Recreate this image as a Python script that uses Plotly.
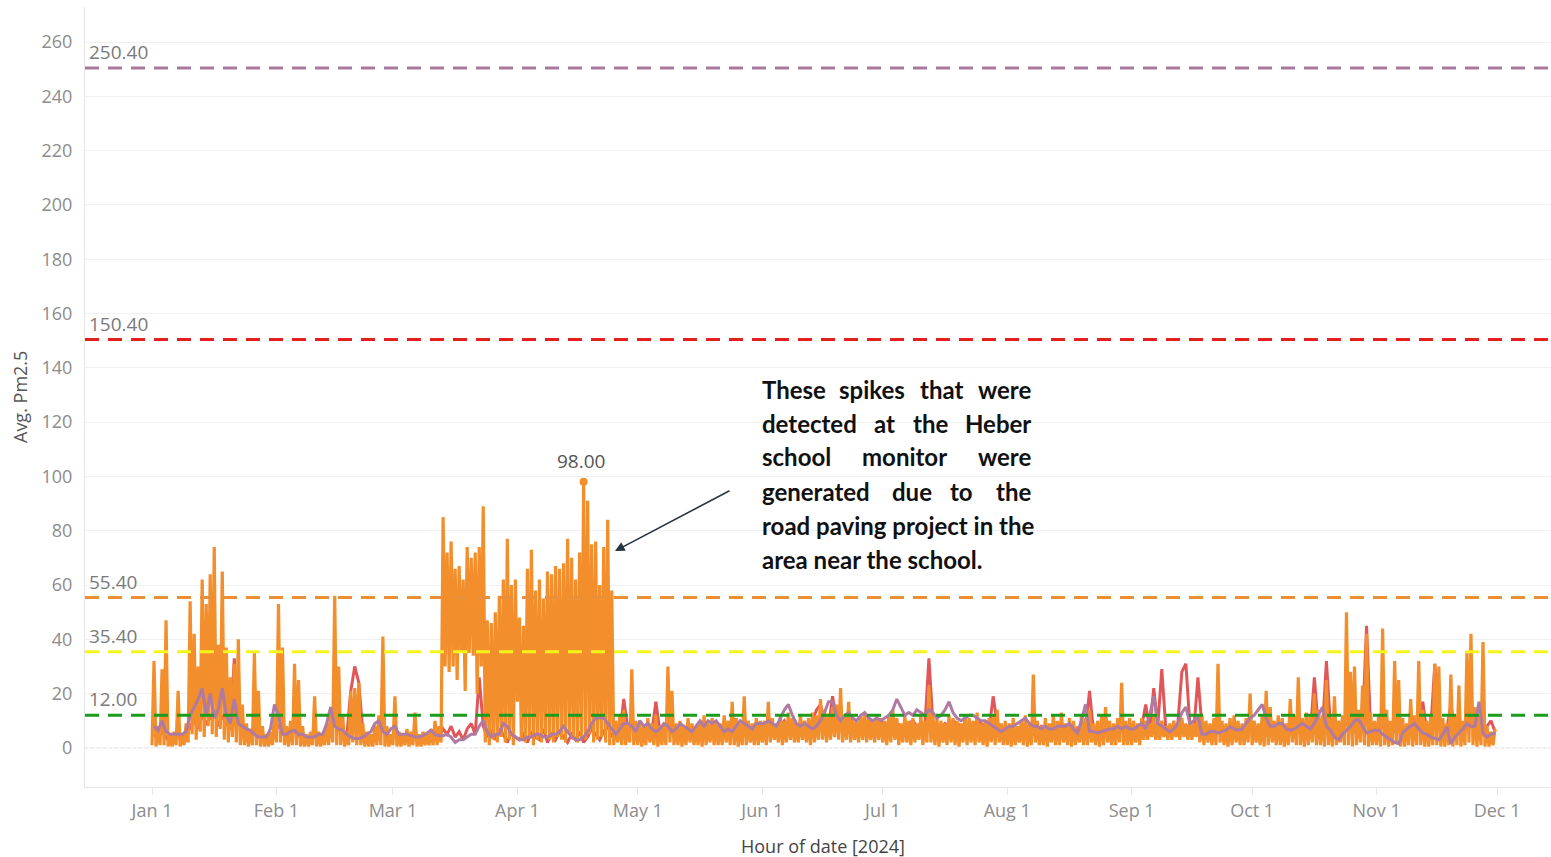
import pandas as pd
import plotly.graph_objects as go

# ---------------- data ----------------
START = "2024-01-01"   # first day of hourly records; one daily low/high pair per day

# Heber school monitor (orange): daily high values, Jan 1 .. Nov 30
orange_hi = [
    32, 8, 29, 47, 5, 6, 21, 5, 9, 54, 42, 30, 62, 53, 64, 74, 38, 65, 37, 26, 31, 40, 16, 9, 7, 35, 21, 8, 5, 6, 12,  # Jan
    53, 37, 8, 10, 31, 25, 8, 5, 6, 19, 6, 5, 9, 14, 56, 30, 12, 6, 21, 22, 24, 9, 6, 5, 8, 12, 41, 8, 5,  # Feb
    19, 6, 5, 7, 6, 13, 5, 6, 5, 7, 10, 8, 85, 72, 76, 66, 67, 62, 74, 70, 72, 74, 89, 47, 46, 50, 56, 62, 77, 60, 62,  # Mar
    48, 45, 66, 73, 58, 62, 55, 65, 64, 67, 66, 68, 77, 70, 62, 72, 98, 91, 75, 76, 60, 74, 84, 58, 10, 12, 14, 9, 29, 10,  # Apr
    9, 8, 11, 9, 12, 8, 9, 30, 21, 9, 10, 8, 11, 9, 8, 10, 12, 9, 11, 10, 9, 12, 10, 17, 11, 9, 19, 10, 9, 11, 10,  # May
    10, 17, 11, 9, 12, 10, 13, 11, 9, 12, 10, 11, 13, 12, 18, 14, 12, 15, 16, 22, 12, 17, 11, 10, 12, 13, 11, 10, 12, 11,  # Jun
    10, 12, 14, 11, 9, 12, 10, 11, 9, 12, 10, 23, 12, 11, 10, 9, 12, 11, 10, 9, 12, 11, 10, 13, 9, 10, 11, 12, 14, 9, 10,  # Jul
    9, 11, 8, 10, 12, 9, 27, 10, 8, 11, 9, 12, 10, 13, 9, 11, 10, 8, 12, 11, 14, 9, 10, 12, 15, 10, 9, 11, 24, 10, 11,  # Aug
    10, 9, 11, 10, 9, 12, 9, 10, 8, 9, 10, 9, 11, 9, 10, 9, 11, 12, 10, 9, 11, 31, 10, 9, 11, 12, 10, 9, 11, 20,  # Sep
    10, 9, 12, 21, 15, 10, 12, 11, 9, 18, 12, 26, 11, 13, 12, 20, 14, 12, 25, 11, 19, 10, 12, 50, 28, 30, 14, 23, 42, 13, 10,  # Oct
    12, 44, 14, 10, 32, 25, 11, 9, 18, 12, 32, 14, 10, 12, 31, 30, 11, 9, 27, 12, 23, 10, 35, 42, 15, 12, 39, 8, 6, 7,  # Nov
]

# Heber school monitor (orange): daily low values
orange_lo = [
    1, 0.5, 1, 1, 0.5, 0.5, 1, 0.5, 1, 2, 5, 3, 6, 4, 8, 5, 4, 7, 3, 2, 4, 2, 1, 1, 0.5, 1, 1, 0.5, 0.5, 0.5, 1,  # Jan
    2, 2, 1, 0.5, 1, 1, 0.5, 0.5, 0.5, 1, 0.5, 0.5, 1, 1, 2, 1, 1, 0.5, 1, 2, 1, 1, 0.5, 0.5, 0.5, 1, 1, 0.5, 0.5,  # Feb
    1, 0.5, 0.5, 1, 0.5, 1, 0.5, 0.5, 1, 1, 1, 1, 2, 30, 28, 30, 25, 35, 21, 35, 34, 20, 30, 2, 1, 3, 2, 4, 2, 3, 1,  # Mar
    17, 3, 2, 4, 1, 3, 2, 5, 3, 2, 4, 3, 2, 5, 3, 2, 4, 3, 5, 2, 3, 4, 2, 1, 1, 2, 1, 1, 2, 1,  # Apr
    1, 0.5, 1, 2, 1, 0.5, 1, 1, 2, 1, 1, 0.5, 1, 2, 1, 1, 0.5, 1, 2, 1, 1, 1, 2, 1, 1, 0.5, 1, 1, 2, 1, 1,  # May
    2, 1, 2, 3, 2, 1, 2, 3, 2, 2, 3, 2, 1, 2, 3, 3, 2, 3, 4, 3, 2, 3, 2, 3, 2, 3, 2, 3, 2, 3,  # Jun
    2, 1, 2, 3, 1, 2, 2, 1, 2, 3, 1, 2, 2, 1, 0.5, 2, 1, 2, 1, 0.5, 2, 1, 2, 1, 2, 1, 0.5, 2, 1, 2, 1,  # Jul
    1, 0.5, 1, 2, 1, 0.5, 1, 2, 1, 1, 0.5, 2, 1, 1, 2, 1, 0.5, 1, 2, 1, 1, 2, 1, 0.5, 1, 2, 1, 1, 2, 1, 1,  # Aug
    1, 2, 1, 3, 3, 4, 3, 3, 4, 3, 3, 4, 3, 4, 3, 3, 4, 2, 1, 2, 1, 1, 2, 1, 0.5, 1, 2, 1, 1, 2,  # Sep
    1, 2, 1, 0.5, 1, 2, 1, 1, 0.5, 1, 2, 1, 1, 0.5, 1, 2, 1, 1, 0.5, 1, 0.5, 1, 2, 1, 1, 0.5, 1, 2, 1, 0.5, 1,  # Oct
    1, 0.5, 1, 0.5, 1, 2, 0.5, 0.5, 1, 0.5, 1, 1, 0.5, 0.5, 1, 1, 0.5, 0.5, 1, 0.5, 1, 0.5, 1, 2, 1, 0.5, 1, 0.5, 0.5, 1,  # Nov
]

# Second monitor (red): daily values
red_vals = [
    5, 3, 6, 4, 2, 3, 5, 2, 3, 8, 10, 7, 12, 9, 11, 14, 8, 12, 9, 7, 33, 10, 6, 4, 3, 7, 5, 3, 2, 3, 6,  # Jan
    8, 6, 3, 4, 6, 5, 2, 3, 2, 5, 3, 2, 4, 6, 9, 7, 5, 4, 21, 30, 24, 6, 4, 3, 3, 5, 8, 4, 3,  # Feb
    5, 3, 2, 4, 3, 5, 2, 3, 4, 5, 6, 4, 7, 5, 8, 4, 6, 3, 7, 9, 5, 26, 8, 4, 6, 3, 7, 5, 2, 6, 4,  # Mar
    3, 5, 2, 6, 4, 3, 7, 2, 5, 3, 6, 4, 2, 5, 3, 6, 2, 4, 7, 5, 3, 6, 8, 4, 6, 5, 18, 7, 9, 6,  # Apr
    7, 5, 8, 6, 17, 6, 7, 8, 9, 6, 7, 5, 8, 6, 7, 9, 6, 8, 5, 7, 6, 8, 7, 9, 6, 8, 7, 6, 8, 7, 9,  # May
    8, 7, 9, 6, 8, 10, 7, 9, 8, 6, 9, 8, 10, 14, 16, 9, 8, 19, 10, 9, 8, 10, 9, 7, 8, 9, 10, 8, 9, 10,  # Jun
    9, 8, 10, 9, 8, 7, 9, 10, 8, 9, 8, 33, 9, 8, 7, 9, 8, 10, 9, 8, 7, 9, 8, 10, 9, 8, 7, 19, 9, 8, 7,  # Jul
    6, 7, 5, 8, 6, 7, 5, 6, 8, 7, 5, 6, 7, 8, 6, 5, 7, 6, 8, 7, 21, 6, 5, 7, 8, 6, 5, 7, 8, 6, 7,  # Aug
    7, 6, 8, 16, 7, 22, 8, 29, 7, 8, 6, 9, 28, 31, 8, 7, 26, 8, 6, 5, 7, 6, 5, 7, 6, 5, 7, 6, 8, 7,  # Sep
    6, 5, 7, 6, 5, 7, 6, 8, 5, 7, 6, 8, 7, 6, 5, 26, 7, 6, 32, 8, 6, 5, 7, 9, 8, 6, 7, 8, 45, 7, 6,  # Oct
    6, 8, 5, 7, 6, 8, 5, 7, 6, 5, 8, 17, 6, 7, 31, 8, 6, 7, 16, 6, 7, 5, 8, 9, 6, 7, 5, 8, 10, 6,  # Nov
]

# Third monitor (purple): daily values
purple_vals = [
    8, 6.5, 10, 6, 5, 5, 5, 5, 6, 12, 15, 18, 22, 12, 20, 11, 14, 22, 12, 9, 18, 9, 8, 7, 6.5, 5, 4, 4, 4, 7, 16,  # Jan
    12, 5, 5, 6, 6.5, 5, 5, 4, 4, 4, 5, 5, 9, 15, 8, 7, 6.5, 5, 4, 3.5, 3.5, 4, 5, 6, 9, 10, 6, 5, 7,  # Feb
    8, 5, 5, 5, 4.5, 4, 4, 4.5, 5.5, 6.5, 5, 4.5, 4.5, 5, 4, 2, 3, 3, 4, 5, 5, 8, 10, 6, 4, 5, 5, 9, 8, 5, 4,  # Mar
    3, 3, 4, 4, 5, 5, 4, 4, 5, 5, 6, 8, 6, 4, 3, 3, 4, 6, 9, 11, 11, 11, 9, 7, 5, 7, 9, 9, 8, 6,  # Apr
    10, 8, 9, 7, 6, 7, 9, 8, 6, 7, 9, 8, 7, 6, 8, 10, 8, 10, 9, 10, 8, 6, 7, 6, 8, 10, 9, 8, 7, 9, 9,  # May
    9, 10, 9, 8, 11, 14, 16, 12, 9, 8, 9, 8, 7, 8, 10, 13, 17, 17, 12, 10, 12, 13, 11, 10, 12, 13, 11, 10, 11, 10,  # Jun
    11, 12, 14, 18, 15, 12, 13, 12, 14, 13, 12, 14, 13, 11, 12, 14, 17, 13, 11, 10, 11, 12, 12, 11, 10, 10, 9, 8, 7, 6, 7,  # Jul
    8, 8, 9, 10, 11, 9, 8, 8, 7, 8, 7, 7, 8, 8, 8, 9, 7, 5.5, 10, 16, 6, 6, 5.5, 6, 6.5, 7, 7, 8, 7, 8, 7,  # Aug
    7, 8, 9, 7, 12, 19, 9, 8, 7, 6, 7, 9, 13, 15, 9, 10, 12, 5, 5, 6, 6, 5.5, 6, 6.5, 7.8, 7, 6.5, 7, 9, 11,  # Sep
    12, 14, 16, 11, 8, 8, 9, 9, 7, 6.5, 7, 8, 9, 8, 7, 9, 12, 15, 8, 6.5, 4, 3, 5, 6.5, 8, 10, 10.5, 8, 5.5, 6, 6.5,  # Oct
    6.5, 5, 4, 3, 2, 1.5, 5.5, 7, 8, 9, 7, 5.5, 5, 4, 3.5, 3, 5, 7.8, 1.5, 4, 5.5, 7, 9, 7.8, 8, 17, 5.5, 4, 5, 5.5,  # Nov
]

# AQI breakpoints drawn as reference lines
ref_values = [250.40, 150.40, 55.40, 35.40, 12.00]
ref_colors = ["#a9789c", "#e3201f", "#ea8f38", "#f5f51c", "#1c9c1c"]

# axis ticks
x_tick_dates = ["2024-01-01", "2024-02-01", "2024-03-01", "2024-04-01", "2024-05-01", "2024-06-01",
                "2024-07-01", "2024-08-01", "2024-09-01", "2024-10-01", "2024-11-01", "2024-12-01"]
x_tick_labels = ["Jan 1", "Feb 1", "Mar 1", "Apr 1", "May 1", "Jun 1",
                 "Jul 1", "Aug 1", "Sep 1", "Oct 1", "Nov 1", "Dec 1"]
y_tick_vals = [0, 20, 40, 60, 80, 100, 120, 140, 160, 180, 200, 220, 240, 260]

note_lines = [
    ["These", "spikes", "that", "were"],
    ["detected", "at", "the", "Heber"],
    ["school", "monitor", "were"],
    ["generated", "due", "to", "the"],
    ["road paving project in the"],
    ["area near the school."],
]

# ---------------- build ----------------
n = len(orange_hi)
for arr in (orange_lo, red_vals, purple_vals):
    if len(arr) != n:
        raise ValueError(f"length mismatch {len(arr)} vs {n}")

days = pd.date_range(START, periods=n, freq="D")
half = pd.Timedelta(hours=12)

ox, oy = [], []
for d, lo, hi in zip(days, orange_lo, orange_hi):
    ox += [d, d + half]
    oy += [lo, hi]
mid_days = [d + half for d in days]

ORANGE = "#f28e2b"
RED = "#e15759"
PURPLE = "#b07aa1"

fig = go.Figure()
fig.add_trace(go.Scatter(x=mid_days, y=red_vals, mode="lines",
                         line=dict(color=RED, width=3, simplify=False), hoverinfo="skip"))
fig.add_trace(go.Scatter(x=ox, y=oy, mode="lines",
                         line=dict(color=ORANGE, width=3.2, simplify=False), hoverinfo="skip"))
fig.add_trace(go.Scatter(x=mid_days, y=purple_vals, mode="lines",
                         line=dict(color=PURPLE, width=3, simplify=False), hoverinfo="skip"))

peak_i = max(range(len(oy)), key=lambda i: oy[i])
fig.add_trace(go.Scatter(x=[ox[peak_i]], y=[oy[peak_i]], mode="markers",
                         marker=dict(color=ORANGE, size=8), hoverinfo="skip"))

# plot-area geometry in pixels (for paper-coordinate placement of text)
L, R, T, B = 85, 1551, 7, 787


def px(xp):
    return (xp - L) / (R - L)


def py(yp):
    return (B - yp) / (B - T)


shapes = []
annotations = []

# dotted zero line
shapes.append(dict(type="line", xref="paper", x0=0, x1=1, yref="y", y0=0, y1=0,
                   line=dict(color="#cfcfcf", width=1, dash="dot"), layer="below"))

for v, c in zip(ref_values, ref_colors):
    shapes.append(dict(type="line", xref="paper", x0=0, x1=1, yref="y", y0=v, y1=v,
                       line=dict(color=c, width=3, dash="14px,9px"), layer="above"))
    annotations.append(dict(xref="paper", x=px(87), yref="y", y=v, text=f"{v:.2f}",
                            showarrow=False, xanchor="left", yanchor="bottom", yshift=1,
                            font=dict(family="Open Sans", size=19, color="#7a7a7a")))

# peak label
annotations.append(dict(x=ox[peak_i], y=oy[peak_i], text=f"{oy[peak_i]:.2f}", showarrow=False,
                        yanchor="bottom", yshift=6, xshift=-3,
                        font=dict(family="Open Sans", size=19, color="#555555")))

# justified note text
line_y = [389, 423, 457, 491, 525, 559]
mid_centers = {0: [872, 941], 1: [884.5, 930], 2: [904.5], 3: [912, 961.5]}
left_x, right_x = 760, 1033
note_font = dict(family="Lato", size=24, color="#111111")
for i, words in enumerate(note_lines):
    yy = py(line_y[i])
    if len(words) == 1:
        annotations.append(dict(xref="paper", yref="paper", x=px(left_x), y=yy,
                                text=f"<b>{words[0]}</b>", showarrow=False,
                                xanchor="left", yanchor="middle", font=note_font))
        continue
    annotations.append(dict(xref="paper", yref="paper", x=px(left_x), y=yy,
                            text=f"<b>{words[0]}</b>", showarrow=False,
                            xanchor="left", yanchor="middle", font=note_font))
    annotations.append(dict(xref="paper", yref="paper", x=px(right_x), y=yy,
                            text=f"<b>{words[-1]}</b>", showarrow=False,
                            xanchor="right", yanchor="middle", font=note_font))
    for w, cx in zip(words[1:-1], mid_centers[i]):
        annotations.append(dict(xref="paper", yref="paper", x=px(cx), y=yy,
                                text=f"<b>{w}</b>", showarrow=False,
                                xanchor="center", yanchor="middle", font=note_font))

# arrow
annotations.append(dict(xref="paper", yref="paper", x=px(615), y=py(551), text="",
                        showarrow=True, ax=731 - 615, ay=490 - 551,
                        arrowhead=2, arrowsize=1.2, arrowwidth=1.6, arrowcolor="#27343d"))

# axis titles
annotations.append(dict(xref="paper", yref="paper", x=px(20), y=py(397), text="Avg. Pm2.5",
                        textangle=-90, showarrow=False, xanchor="center", yanchor="middle",
                        font=dict(family="Open Sans", size=18, color="#555555")))
annotations.append(dict(xref="paper", yref="paper", x=px(823), y=py(846), text="Hour of date [2024]",
                        showarrow=False, xanchor="center", yanchor="middle",
                        font=dict(family="Open Sans", size=18, color="#444444")))

fig.update_layout(
    width=1551, height=857,
    margin=dict(l=L, r=1551 - R, t=T, b=857 - B),
    paper_bgcolor="white", plot_bgcolor="white",
    showlegend=False,
    shapes=shapes, annotations=annotations,
    xaxis=dict(type="date",
               range=["2023-12-15 07:30", "2024-12-14 10:30"],
               tickvals=x_tick_dates, ticktext=x_tick_labels,
               showgrid=False, zeroline=False,
               showline=True, linecolor="#e6e6e6", linewidth=1,
               ticks="outside", ticklen=7, tickcolor="#e6e6e6",
               tickfont=dict(family="Open Sans", size=18, color="#8c8c8c")),
    yaxis=dict(range=[-14.4, 272.9],
               tickvals=y_tick_vals,
               showgrid=True, gridcolor="#f0f0f0", gridwidth=1,
               zeroline=False,
               showline=True, linecolor="#e6e6e6", linewidth=1,
               ticks="outside", ticklen=8, tickcolor="rgba(0,0,0,0)",
               tickfont=dict(family="Open Sans", size=18, color="#8c8c8c")),
)

fig.write_html("out.html", config={"displayModeBar": False},
               post_script="document.body.style.margin='0';document.body.style.overflow='hidden';")
